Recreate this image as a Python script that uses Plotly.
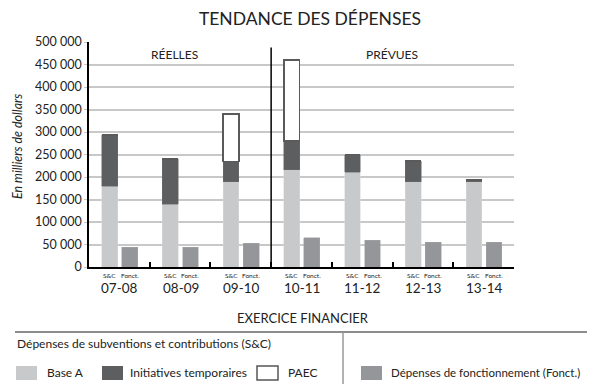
import plotly.graph_objects as go

years = ["07-08", "08-09", "09-10", "10-11", "11-12", "12-13", "13-14"]
base_a = [180000, 140000, 190000, 216000, 211000, 190000, 189000]
initiatives = [113000, 100000, 45000, 64000, 39000, 46000, 4000]
paec = [0, 0, 105000, 180000, 0, 0, 0]
fonct = [44000, 44000, 53000, 65000, 60000, 55000, 55000]
y_ticks = [0, 50000, 100000, 150000, 200000, 250000, 300000, 350000, 400000, 450000, 500000]

C_BASE = "#c8c9cb"
C_INIT = "#5d5e60"
C_FONCT = "#959699"
FONT = "Lato"

# the page body has an 8px margin, so the figure is drawn 8px in
OFF = 8
FW, FH = 595 - OFF, 390 - OFF

# plot area in window pixels
L, R, T, B = 89, 514, 42, 267
W, H = R - L, B - T


def px(x):
    return (x - L) / W


def py(y):
    return (B - y) / H


idx = list(range(len(years)))
x_sc = [i - 0.16 for i in idx]
x_fo = [i + 0.17 for i in idx]
bw = 0.26

fig = go.Figure()
fig.add_trace(go.Bar(x=x_sc, y=base_a, width=bw, name="Base A",
                     marker=dict(color=C_BASE, line=dict(color="#d8d9db", width=0.5))))
fig.add_trace(go.Bar(x=x_sc, y=initiatives, width=bw, name="Initiatives temporaires",
                     marker=dict(color=C_INIT, line=dict(color="#6a6b6d", width=0.5))))
fig.add_trace(go.Bar(x=x_sc, y=paec, width=bw, name="PAEC",
                     marker=dict(color="white", line=dict(color="#5a5a5a", width=1.5))))
fig.add_trace(go.Bar(x=x_fo, y=fonct, width=bw, name="Fonct.",
                     marker=dict(color=C_FONCT, line=dict(color="#a5a6a9", width=0.5))))

fig.update_layout(
    width=FW, height=FH,
    barmode="stack",
    showlegend=False,
    plot_bgcolor="white", paper_bgcolor="white",
    margin=dict(l=L - OFF, r=FW - (R - OFF), t=T - OFF, b=FH - (B - OFF), autoexpand=False),
    font=dict(family=FONT, color="#222"),
    title=dict(text="TENDANCE DES DÉPENSES", x=px(310), xref="paper", xanchor="center",
               y=1 - (19 - OFF) / FH, yanchor="middle",
               font=dict(size=17.5, family=FONT, color="#222")),
)

fig.update_yaxes(range=[0, 500000], tickvals=y_ticks,
                 ticktext=[f"{v:,}".replace(",", " ") for v in y_ticks],
                 tickfont=dict(size=12.5, color="#222"),
                 showgrid=True, gridcolor="#c8c8c8", gridwidth=1.5,
                 showline=True, linecolor="black", linewidth=1.5,
                 zeroline=False, ticks="outside", ticklen=3, tickcolor="#c8c8c8")
fig.update_xaxes(range=[-0.5, 6.5], tickvals=[i + 0.5 for i in idx], ticktext=[""] * 7,
                 ticks="inside", ticklen=5, tickwidth=1.5, tickcolor="black",
                 showline=True, linecolor="black", linewidth=2, showgrid=False,
                 zeroline=False)

ann = []
# divider between actual and planned
fig.add_shape(type="line", x0=2.5, x1=2.5, y0=0, y1=488000, xref="x", yref="y",
              line=dict(color="black", width=1.5))
ann.append(dict(x=0.91, y=472000, xref="x", yref="y", text="RÉELLES", showarrow=False,
                font=dict(size=12)))
ann.append(dict(x=4.49, y=472000, xref="x", yref="y", text="PRÉVUES", showarrow=False,
                font=dict(size=12)))

for i, yr in enumerate(years):
    ann.append(dict(x=x_sc[i], y=py(275), xref="x", yref="paper", text="S&C",
                    showarrow=False, yanchor="middle", font=dict(size=6.5)))
    ann.append(dict(x=x_fo[i], y=py(275), xref="x", yref="paper", text="Fonct.",
                    showarrow=False, yanchor="middle", font=dict(size=6.5)))
    ann.append(dict(x=i + 0.01, y=py(288), xref="x", yref="paper", text=yr,
                    showarrow=False, yanchor="middle", font=dict(size=13.5)))

ann.append(dict(x=px(302.5), y=py(317.5), xref="paper", yref="paper", text="EXERCICE FINANCIER",
                showarrow=False, xanchor="center", yanchor="middle", font=dict(size=13)))
ann.append(dict(x=px(17), y=py(147), xref="paper", yref="paper",
                text="<i>En milliers de dollars</i>", textangle=-90,
                showarrow=False, xanchor="center", yanchor="middle", font=dict(size=12.5)))

# legend block
fig.add_shape(type="line", xref="paper", yref="paper", x0=px(15), x1=px(592),
              y0=py(332), y1=py(332), line=dict(color="#666", width=1.5))
fig.add_shape(type="line", xref="paper", yref="paper", x0=px(343), x1=px(343),
              y0=py(332), y1=py(384), line=dict(color="#999", width=1.5))
ann.append(dict(x=px(15), y=py(343), xref="paper", yref="paper", xanchor="left",
                yanchor="middle", text="Dépenses de subventions et contributions (S&C)",
                showarrow=False, font=dict(size=12)))

legend_items = [
    (16, C_BASE, None, 45, "Base A", 12),
    (102, C_INIT, None, 128, "Initiatives temporaires", 12),
    (257, "white", "#555", 286, "PAEC", 12),
    (361, C_FONCT, None, 389, "Dépenses de fonctionnement (Fonct.)", 11.5),
]
for sx, col, lc, tx, label, fs in legend_items:
    fig.add_shape(type="rect", xref="paper", yref="paper",
                  x0=px(sx), x1=px(sx + 21), y0=py(366), y1=py(380),
                  fillcolor=col, line=dict(color=lc or col, width=1.5 if lc else 0))
    ann.append(dict(x=px(tx), y=py(372.5), xref="paper", yref="paper", xanchor="left",
                    yanchor="middle", text=label, showarrow=False, font=dict(size=fs)))

fig.update_layout(annotations=ann)
fig.write_html("out.html")
